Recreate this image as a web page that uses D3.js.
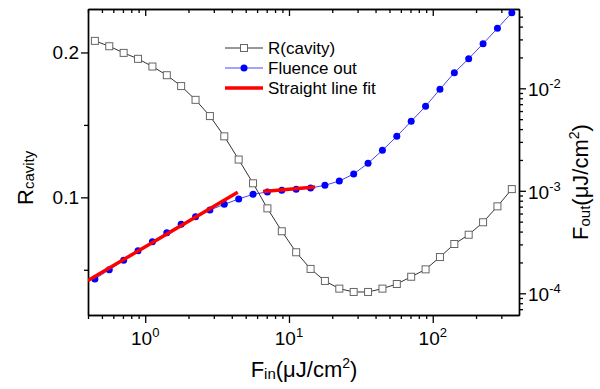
<!DOCTYPE html>
<html><head><meta charset="utf-8">
<script src="https://cdn.jsdelivr.net/npm/d3@7"></script>
<style>body{margin:0;background:#fff} svg{font-family:Arial,"Liberation Sans",sans-serif}</style>
</head><body><svg id="c" width="600" height="389"></svg>
<script>
// ---- data ----
const fin = [0.4467,0.5623,0.7079,0.8913,1.122,1.413,1.778,2.239,2.818,3.548,
             4.467,5.623,7.079,8.913,11.22,14.13,17.78,22.39,28.18,35.48,
             44.67,56.23,70.79,89.13,112.2,141.3,177.8,223.9,281.8,354.8];
const rCavity = [0.208,0.2043,0.1997,0.1956,0.1903,0.1843,0.1768,0.1673,0.1561,0.1421,
                 0.1261,0.1097,0.0924,0.0766,0.0621,0.0506,0.0423,0.0370,0.0347,0.0347,
                 0.0370,0.0402,0.0452,0.0503,0.0588,0.0678,0.0742,0.0828,0.0938,0.1057];
const fluenceOut = [1.379e-4,1.699e-4,2.099e-4,2.603e-4,3.188e-4,3.902e-4,4.711e-4,5.589e-4,6.497e-4,7.384e-4,
                    8.318e-4,9.245e-4,9.734e-4,1.011e-3,1.034e-3,1.065e-3,1.131e-3,1.246e-3,1.458e-3,1.855e-3,
                    2.484e-3,3.402e-3,4.764e-3,6.675e-3,9.777e-3,1.42e-2,1.944e-2,2.723e-2,3.849e-2,5.465e-2];
const fit1X = [0.4, 4.4],  fit1Y = [1.33e-4, 9.7e-4];
const fit2X = [6.6, 15.2], fit2Y = [9.85e-4, 1.09e-3];
const xMajor = [1, 10, 100], xExp = ["0", "1", "2"];
const leftMajor = [0.1, 0.2], leftLabels = ["0.1", "0.2"], leftMinor = [0.05, 0.15];
const rightMajor = [1e-4, 1e-3, 1e-2], rightExp = ["-4", "-3", "-2"];
const legendLabels = ["R(cavity)", "Fluence out", "Straight line fit"];

// ---- layout ----
const svg = d3.select("#c");
const L = 88, R = 519, T = 9, B = 315;
const x = d3.scaleLog().domain([0.4, 398]).range([L, R]);
const yL = d3.scaleLinear().domain([0.0188, 0.23]).range([B, T]);
const yR = d3.scaleLog().domain([6.14e-5, 0.0594]).range([B, T]);
const isMajor = v => Math.abs(Math.log10(v) - Math.round(Math.log10(v))) < 1e-6;

function styleAxis(g){ g.selectAll("path,line").attr("stroke","#000").attr("stroke-width",1.3); g.select(".domain").attr("stroke-width",1.4); }

const xMinor = x.ticks().filter(v => !isMajor(v));
const rMinor = yR.ticks().filter(v => !isMajor(v));

// bottom
svg.append("g").attr("transform",`translate(0,${B})`).call(d3.axisBottom(x).tickValues(xMinor).tickSize(4).tickSizeOuter(0).tickFormat("")).call(styleAxis);
svg.append("g").attr("transform",`translate(0,${B})`).call(d3.axisBottom(x).tickValues(xMajor).tickSize(8).tickSizeOuter(0).tickFormat("")).call(styleAxis);
// top (inward)
svg.append("g").attr("transform",`translate(0,${T})`).call(d3.axisTop(x).tickValues(xMinor).tickSize(-4).tickSizeOuter(0).tickFormat("")).call(styleAxis);
svg.append("g").attr("transform",`translate(0,${T})`).call(d3.axisTop(x).tickValues(xMajor).tickSize(-7).tickSizeOuter(0).tickFormat("")).call(styleAxis);
// left
svg.append("g").attr("transform",`translate(${L},0)`).call(d3.axisLeft(yL).tickValues(leftMinor).tickSize(4).tickSizeOuter(0).tickFormat("")).call(styleAxis);
svg.append("g").attr("transform",`translate(${L},0)`).call(d3.axisLeft(yL).tickValues(leftMajor).tickSize(7).tickSizeOuter(0).tickFormat("")).call(styleAxis);
// right
svg.append("g").attr("transform",`translate(${R},0)`).call(d3.axisRight(yR).tickValues(rMinor).tickSize(4).tickSizeOuter(0).tickFormat("")).call(styleAxis);
svg.append("g").attr("transform",`translate(${R},0)`).call(d3.axisRight(yR).tickValues(rightMajor).tickSize(7).tickSizeOuter(0).tickFormat("")).call(styleAxis);

// tick labels
xMajor.forEach((v,i)=>{
  const t = svg.append("text").attr("x", x(v)).attr("y", 345).attr("text-anchor","middle").attr("font-size",19);
  t.append("tspan").text("10");
  t.append("tspan").attr("font-size",13).attr("dy",-8).text(xExp[i]);
});
leftMajor.forEach((v,i)=>{
  svg.append("text").attr("x", L-9).attr("y", yL(v)).attr("dy","0.36em").attr("text-anchor","end").attr("font-size",19).text(leftLabels[i]);
});
rightMajor.forEach((v,i)=>{
  const t = svg.append("text").attr("x", R+9).attr("y", yR(v)).attr("dy","0.42em").attr("font-size",19);
  t.append("tspan").text("10");
  t.append("tspan").attr("font-size",13).attr("dy",-8).text(rightExp[i]);
});

// axis titles
{
  const t = svg.append("text").attr("x", 304).attr("y", 377).attr("text-anchor","middle").attr("font-size",22);
  t.append("tspan").text("F");
  t.append("tspan").attr("font-size",15).attr("dy",2).text("in");
  t.append("tspan").attr("dy",-2).text("(μJ/cm");
  t.append("tspan").attr("font-size",14).attr("dy",-9).text("2");
  t.append("tspan").attr("dy",9).text(")");
}
{
  const t = svg.append("text").attr("transform","translate(33,205) rotate(-90)").attr("font-size",22);
  t.append("tspan").text("R");
  t.append("tspan").attr("font-size",15).attr("dy",1).text("cavity");
}
{
  const t = svg.append("text").attr("transform","translate(588,240) rotate(-90)").attr("font-size",22);
  t.append("tspan").text("F");
  t.append("tspan").attr("font-size",15).attr("dy",2).text("out");
  t.append("tspan").attr("dy",-2).text("(μJ/cm");
  t.append("tspan").attr("font-size",14).attr("dy",-9).text("2");
  t.append("tspan").attr("dy",9).text(")");
}

// frame lines top/right already from axes
svg.append("defs").append("clipPath").attr("id","clip").append("rect").attr("x",L).attr("y",T).attr("width",R-L).attr("height",B-T);
const plot = svg.append("g").attr("clip-path","url(#clip)");

// fluence out
const fo = fin.map((f,i)=>[f, fluenceOut[i]]);
plot.append("path").datum(fo).attr("fill","none").attr("stroke","#4646f0").attr("stroke-width",1)
  .attr("d", d3.line().x(d=>x(d[0])).y(d=>yR(d[1])));
plot.selectAll("circle.fo").data(fo).join("circle").attr("class","fo")
  .attr("cx",d=>x(d[0])).attr("cy",d=>yR(d[1])).attr("r",3.5).attr("fill","#0000ff");

// R cavity
const rc = fin.map((f,i)=>[f, rCavity[i]]);
plot.append("path").datum(rc).attr("fill","none").attr("stroke","#333").attr("stroke-width",1)
  .attr("d", d3.line().x(d=>x(d[0])).y(d=>yL(d[1])));
plot.selectAll("rect.rc").data(rc).join("rect").attr("class","rc")
  .attr("x",d=>x(d[0])-3.5).attr("y",d=>yL(d[1])-3.5).attr("width",7).attr("height",7)
  .attr("fill","#fff").attr("stroke","#666").attr("stroke-width",1);

// fits
[[fit1X,fit1Y],[fit2X,fit2Y]].forEach(([fx,fy])=>{
  plot.append("path").datum(fx.map((v,i)=>[v,fy[i]])).attr("fill","none").attr("stroke","#ff0000").attr("stroke-width",3.5)
    .attr("d", d3.line().x(d=>x(d[0])).y(d=>yR(d[1])));
});

// legend
const lg = svg.append("g");
const rows = [48, 68, 88];
lg.append("line").attr("x1",225).attr("x2",263).attr("y1",rows[0]).attr("y2",rows[0]).attr("stroke","#333").attr("stroke-width",1);
lg.append("rect").attr("x",240.5).attr("y",rows[0]-3.5).attr("width",7).attr("height",7).attr("fill","#fff").attr("stroke","#666");
lg.append("line").attr("x1",225).attr("x2",263).attr("y1",rows[1]).attr("y2",rows[1]).attr("stroke","#4646f0").attr("stroke-width",1);
lg.append("circle").attr("cx",244).attr("cy",rows[1]).attr("r",3.5).attr("fill","#0000ff");
lg.append("line").attr("x1",225).attr("x2",263).attr("y1",rows[2]).attr("y2",rows[2]).attr("stroke","#ff0000").attr("stroke-width",3.5);
legendLabels.forEach((s,i)=>{
  lg.append("text").attr("x",268).attr("y",rows[i]).attr("dy","0.36em").attr("font-size",17).text(s);
});
</script></body></html>
